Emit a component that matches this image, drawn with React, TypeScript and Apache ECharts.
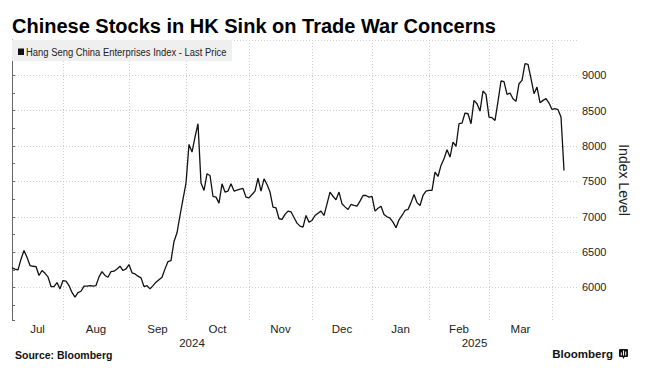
import React, { useEffect, useRef } from "react";
import * as echarts from "echarts";

const chartTitle = "Chinese Stocks in HK Sink on Trade War Concerns";
const seriesName = "Hang Seng China Enterprises Index - Last Price";
const sourceText = "Source: Bloomberg";
const axisName = "Index Level";

// one value per trading session, Jul 2024 .. 7 Apr 2025
const prices = [
  6277, 6260, 6249, 6400, 6522, 6428, 6310, 6300, 6296, 6169,
  6240, 6200, 6150, 6013, 6013, 6070, 5980, 6098, 6090, 6027,
  5930, 5865, 5928, 5947, 6018, 6020, 6027, 6018, 6027, 6150,
  6225, 6170, 6145, 6225, 6230, 6260, 6301, 6240, 6263, 6324,
  6207, 6192, 6160, 6136, 6013, 6027, 5980, 6027, 6075, 6110,
  6145, 6263, 6367, 6381, 6650, 6773, 7018, 7250, 7476, 8024,
  7915, 8127, 8316, 7476, 7372, 7608, 7584, 7287, 7278, 7193,
  7466, 7349, 7363, 7466, 7363, 7377, 7390, 7400, 7278, 7268,
  7315, 7363, 7547, 7363, 7537, 7457, 7349, 7136, 7127, 6972,
  6962, 7033, 7080, 7070, 6990, 6910, 6868, 6854, 7018, 6924,
  6948, 7018, 7050, 7080, 7018, 7183, 7349, 7290, 7240, 7349,
  7183, 7140, 7103, 7174, 7160, 7150, 7221, 7301, 7301, 7278,
  7287, 7080, 7120, 7150, 7033, 7000, 6981, 6924, 6844, 6957,
  7018, 7089, 7103, 7200, 7316, 7200, 7160, 7301, 7363, 7372,
  7372, 7632, 7570, 7726, 7820, 7947, 7844, 8056, 7995, 8316,
  8325, 8467, 8457, 8316, 8646, 8599, 8495, 8779, 8731, 8410,
  8401, 8363, 8632, 8920, 8911, 8731, 8750, 8670, 8632, 8882,
  8929, 9165, 9156, 8953, 8741, 8835, 8613, 8646, 8670, 8608,
  8518, 8528, 8514, 8410, 7655,
];

const monthNames = ["Jul", "Aug", "Sep", "Oct", "Nov", "Dec", "Jan", "Feb", "Mar"];
// session index where each month begins (Jul .. Apr)
const monthStarts = [0, 17, 39, 58, 79, 100, 120, 139, 159, 180];
const yearNames = ["2024", "2025"];
const yearStarts = [0, 120];
const axisEnd = 188.33;

const yMin = 5540;
const yMax = 9500;

const fontSans = "'Liberation Sans', Arial, sans-serif";

export default function App() {
  const ref = useRef<HTMLDivElement>(null);

  useEffect(() => {
    if (!ref.current) return;
    const chart = echarts.init(ref.current, undefined, { renderer: "svg" });

    const monthMids = monthNames.map((_, i) => (monthStarts[i] + monthStarts[i + 1]) / 2);
    const monthLabel = new Map<number, string>();
    monthMids.forEach((m, i) => monthLabel.set(m, monthNames[i]));
    const yearEnds = [...yearStarts.slice(1), axisEnd];
    const yearMids = yearNames.map((_, i) => (yearStarts[i] + yearEnds[i]) / 2);
    const yearLabel = new Map<number, string>();
    yearMids.forEach((m, i) => yearLabel.set(m, yearNames[i]));

    const gridColor = "#cfcfcf";
    const splitColors = ["rgba(0,0,0,0)"];
    for (let i = 0; i < 20; i++) splitColors.push(gridColor);

    chart.setOption({
      animation: false,
      backgroundColor: "#ffffff",
      grid: { left: 12, right: 69, top: 40, bottom: 70, containLabel: false },
      xAxis: [
        {
          type: "value",
          min: 0,
          max: axisEnd,
          position: "bottom",
          axisLine: { show: false },
          axisTick: { show: false, customValues: monthStarts.slice(1) },
          splitLine: { show: true, lineStyle: { color: gridColor, type: [1, 2], width: 1 } },
          axisLabel: {
            customValues: monthMids,
            formatter: (v: number) => monthLabel.get(v) ?? "",
            fontFamily: fontSans,
            fontSize: 11.5,
            color: "#222",
            margin: 3,
          },
        },
        {
          type: "value",
          min: 0,
          max: axisEnd,
          position: "bottom",
          offset: 14,
          axisLine: { show: false },
          axisTick: { show: false },
          splitLine: { show: false },
          axisLabel: {
            customValues: yearMids,
            formatter: (v: number) => yearLabel.get(v) ?? "",
            fontFamily: fontSans,
            fontSize: 11.5,
            color: "#222",
            margin: 3,
          },
        },
      ],
      yAxis: {
        type: "value",
        position: "right",
        min: yMin,
        max: yMax,
        splitNumber: 8,
        name: axisName,
        nameLocation: "middle",
        nameRotate: -90,
        nameGap: 40,
        nameTextStyle: { fontFamily: fontSans, fontSize: 14, color: "#222" },
        axisLine: { show: true, lineStyle: { color: "#666", width: 1 } },
        axisTick: { show: true, length: 3, lineStyle: { color: "#666" } },
        minorTick: { show: true, splitNumber: 2, length: 3, lineStyle: { color: "#666" } },
        splitLine: { show: true, lineStyle: { color: splitColors, type: [1, 2], width: 1 } },
        axisLabel: {
          margin: 5,
          fontFamily: fontSans,
          fontSize: 11,
          color: "#222",
          formatter: (v: number) => (v % 500 === 0 && v >= 6000 && v <= 9000 ? String(v) : ""),
        },
      },
      series: [
        {
          type: "line",
          name: seriesName,
          xAxisIndex: 0,
          data: prices.map((v, i) => [i, v]),
          showSymbol: false,
          symbol: "none",
          lineStyle: { color: "#111", width: 1.3 },
        },
      ],
      graphic: [
        {
          type: "text",
          x: 12,
          y: 26,
          z: 20,
          style: {
            text: chartTitle,
            font: `bold 20px ${fontSans}`,
            fill: "#000",
            verticalAlign: "middle",
          },
        },
        {
          type: "rect",
          z: 20,
          shape: { x: 12, y: 40, width: 220, height: 21 },
          style: { fill: "#efefef" },
        },
        {
          type: "rect",
          z: 21,
          shape: { x: 18, y: 48.5, width: 6, height: 6.5 },
          style: { fill: "#111" },
        },
        {
          type: "text",
          x: 26,
          y: 52,
          z: 21,
          scaleX: 0.82,
          style: {
            text: seriesName,
            font: `11.5px ${fontSans}`,
            fill: "#222",
            verticalAlign: "middle",
          },
        },
        {
          type: "text",
          x: 15,
          y: 354.5,
          z: 20,
          style: {
            text: sourceText,
            font: `bold 10.5px ${fontSans}`,
            fill: "#111",
            verticalAlign: "middle",
          },
        },
        {
          type: "text",
          x: 613,
          y: 353.5,
          z: 20,
          style: {
            text: "Bloomberg",
            font: `bold 11.5px ${fontSans}`,
            fill: "#111",
            align: "right",
            verticalAlign: "middle",
          },
        },
        {
          type: "rect",
          z: 20,
          shape: { x: 619, y: 349, width: 9, height: 8, r: 1 },
          style: { fill: "#111" },
        },
        {
          type: "polygon",
          z: 20,
          shape: { points: [[622, 356], [625, 356], [623.5, 359]] },
          style: { fill: "#111" },
        },
        { type: "rect", z: 21, shape: { x: 620.8, y: 352.5, width: 1, height: 3 }, style: { fill: "#fff" } },
        { type: "rect", z: 21, shape: { x: 623, y: 350.5, width: 1, height: 5 }, style: { fill: "#fff" } },
        { type: "rect", z: 21, shape: { x: 625.2, y: 351.5, width: 1, height: 4 }, style: { fill: "#fff" } },
      ],
    });

    return () => chart.dispose();
  }, []);

  return (
    <div
      ref={ref}
      style={{ position: "fixed", left: 0, top: 0, width: 646, height: 390, background: "#fff" }}
    />
  );
}
